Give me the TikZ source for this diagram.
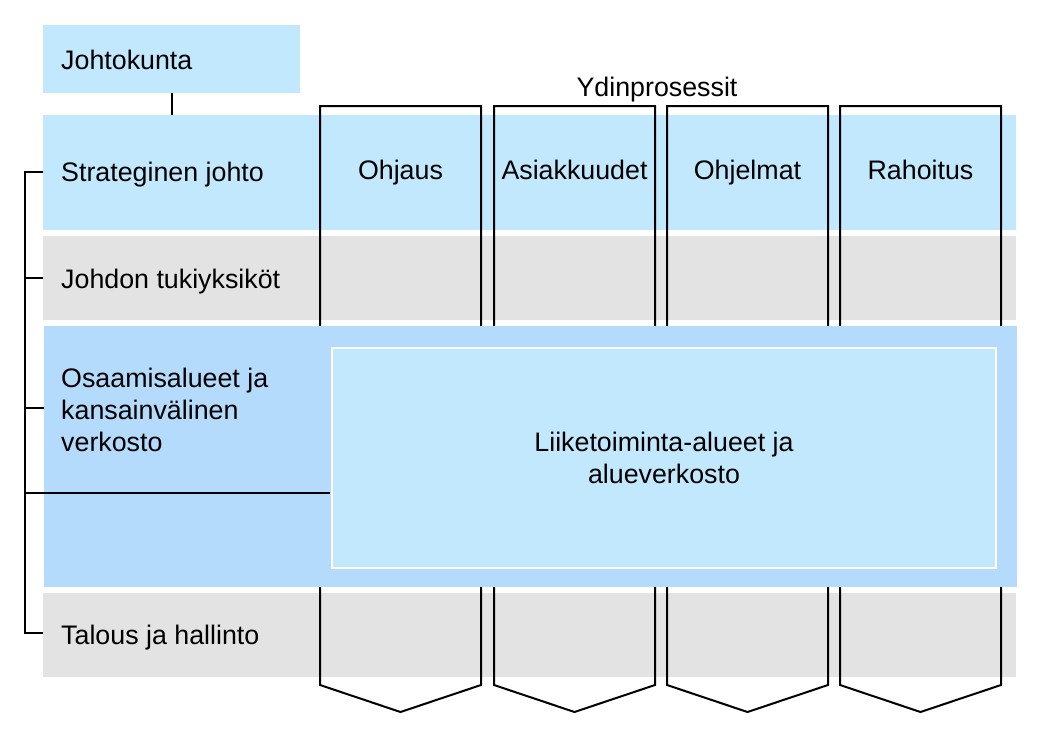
\documentclass[tikz,border=0pt]{standalone}
\usepackage{fontspec}
\setmainfont{Liberation Sans}
\definecolor{lightblue}{RGB}{194,232,254}
\definecolor{midblue}{RGB}{180,218,252}
\definecolor{bandgray}{RGB}{227,227,227}
\begin{document}
\begin{tikzpicture}[x=1pt,y=-1pt,
  every node/.style={font=\fontsize{26.8}{32}\selectfont, text=black},
  one/.style={text height=19pt, text depth=0pt},
  band/.style={rectangle, inner sep=0pt, anchor=north west, minimum width=973pt},
  lbl/.style={anchor=west, inner sep=0pt, align=left},
  conn/.style={draw=black, line width=2pt},
  col/.style={draw=black, line width=2pt, line join=miter}
]
\useasboundingbox (0,0) rectangle (1039,755);
% boxes and bands
\node[band, fill=lightblue, minimum width=257pt, minimum height=68pt] (jk) at (43,25) {};
\node[band, fill=lightblue, minimum height=115pt] (strat) at (43,115) {};
\node[band, fill=bandgray, minimum height=84pt] (tuki) at (43,236) {};
\node[band, fill=bandgray, minimum height=84pt] (talous) at (43,593) {};
% process columns
\foreach \l/\r/\name/\txt in {320/481/c1/Ohjaus, 494/655/c2/Asiakkuudet, 667/828/c3/Ohjelmat, 840/1001/c4/Rahoitus}{
  \draw[col] (\l,685) -- (\l,106) -- (\r,106) -- (\r,685) -- ({(\l+\r)/2},712) -- cycle;
  \node[one, inner sep=0pt] (\name) at ({(\l+\r)/2},170) {\txt};
}
\node[one, inner sep=0pt] (ydin) at (657,87) {Ydinprosessit};
% osaamis band covering columns
\node[band, fill=midblue, minimum height=261pt] (osaam) at (44,326) {};
\node[rectangle, draw=white, line width=2pt, fill=lightblue, anchor=north west, minimum width=664pt, minimum height=220pt, inner sep=0pt] (liike) at (331,347) {};
\node[align=center] at (liike.center) {Liiketoiminta-alueet ja\\alueverkosto};
% labels
\node[lbl, one] (tjk) at (61,60) {Johtokunta};
\node[lbl, one] (tstrat) at (61,172) {Strateginen johto};
\node[lbl, one] (ttuki) at (61,279) {Johdon tukiyksiköt};
\node[lbl] (tosaam) at (61,410) {Osaamisalueet ja\\kansainvälinen\\verkosto};
\node[lbl, one] (ttal) at (61,635) {Talous ja hallinto};
% connectors
\coordinate (stop) at (25,172);
\coordinate (sbot) at (25,633);
\coordinate (osaamtick) at (44,408);
\coordinate (liiketick) at (330,493);
\draw[conn] (jk.south) -- (jk.south |- strat.north);
\draw[conn] (strat.west |- stop) -- (stop) -- (sbot) -- (talous.west |- sbot);
\draw[conn] (tuki.west) -- (tuki.west -| stop);
\draw[conn] (osaamtick) -- (osaamtick -| stop);
\draw[conn] (liiketick) -- (liiketick -| stop);
\end{tikzpicture}
\end{document}
